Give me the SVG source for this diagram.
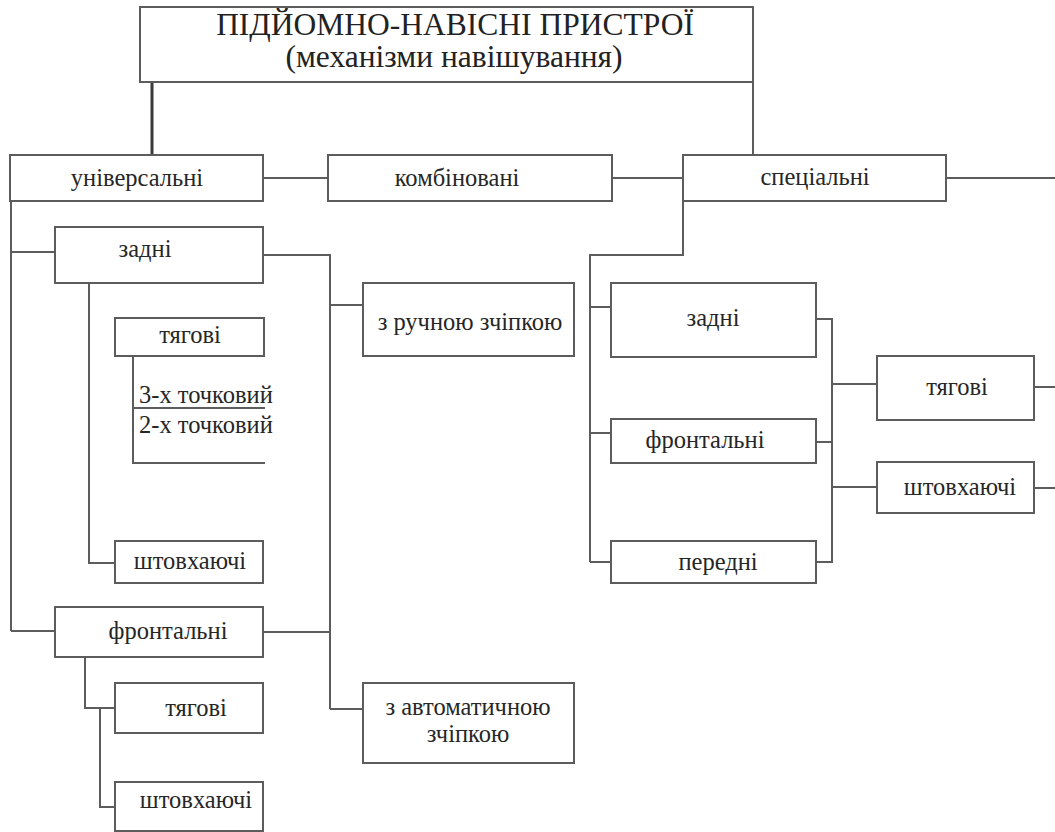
<svg xmlns="http://www.w3.org/2000/svg" width="1055" height="832" viewBox="0 0 1055 832">
<style>
.box{fill:#fff;stroke:#5c5c5c;stroke-width:2}
.ln{fill:none;stroke:#5c5c5c;stroke-width:2}
.thick{fill:none;stroke:#3a3a3a;stroke-width:3}
text{font-family:'Liberation Serif','Times New Roman',serif;fill:#262626;font-size:24.5px}
.c{text-anchor:middle}
.t{font-size:31.5px;fill:#222}
</style>
<rect width="1055" height="832" fill="#fff"/>
<g id="connectors">
<path class="thick" d="M152 82V155"/>
<path class="ln" d="M753 82V155"/>
<path class="ln" d="M263 178H328M612 178H683M946 178H1055"/>
<path class="ln" d="M11 201V631M11 252H55M11 631H55"/>
<path class="ln" d="M263 255H330V709M330 305H363M263 632H330M330 709H363"/>
<path class="ln" d="M89 283V563H115"/>
<path class="ln" d="M133 356V463H265M133 408H265"/>
<path class="ln" d="M85 657V708H115M100 708V807H115"/>
<path class="ln" d="M683 202V255H590V562M590 307H611M590 433H611M590 562H611"/>
<path class="ln" d="M816 319H832V562H816M816 442H832M832 384H877M832 487H877"/>
<path class="ln" d="M1034 387H1055M1034 488H1055"/>
</g>
<g id="title">
<rect class="box" x="140" y="7" width="613" height="75"/>
<text class="c t" x="455" y="35">ПІДЙОМНО-НАВІСНІ ПРИСТРОЇ</text>
<text class="c t" x="454" y="67">(механізми навішування)</text>
</g>
<g id="universal">
<rect class="box" x="10" y="155" width="253" height="46"/>
<text class="c" x="137" y="186">універсальні</text>
</g>
<g id="combined">
<rect class="box" x="328" y="155" width="284" height="46"/>
<text class="c" x="457" y="186">комбіновані</text>
</g>
<g id="special">
<rect class="box" x="683" y="155" width="263" height="46"/>
<text class="c" x="815" y="185">спеціальні</text>
</g>
<g id="u-rear">
<rect class="box" x="55" y="227" width="208" height="56"/>
<text class="c" x="145" y="257">задні</text>
</g>
<g id="u-rear-traction">
<rect class="box" x="115" y="318" width="149" height="38"/>
<text class="c" x="190" y="343">тягові</text>
</g>
<g id="u-3point">
<text x="139" y="403">3-х точковий</text>
</g>
<g id="u-2point">
<text x="139" y="433">2-х точковий</text>
</g>
<g id="u-rear-push">
<rect class="box" x="115" y="541" width="148" height="42"/>
<text class="c" x="190" y="569">штовхаючі</text>
</g>
<g id="u-front">
<rect class="box" x="55" y="607" width="208" height="50"/>
<text class="c" x="168" y="639">фронтальні</text>
</g>
<g id="u-front-traction">
<rect class="box" x="115" y="683" width="148" height="50"/>
<text class="c" x="196" y="716">тягові</text>
</g>
<g id="u-front-push">
<rect class="box" x="115" y="782" width="148" height="49"/>
<text class="c" x="196" y="808">штовхаючі</text>
</g>
<g id="manual">
<rect class="box" x="363" y="283" width="211" height="73"/>
<text class="c" x="470" y="330">з ручною зчіпкою</text>
</g>
<g id="auto">
<rect class="box" x="363" y="683" width="211" height="80"/>
<text class="c" x="468" y="715">з автоматичною</text>
<text class="c" x="468" y="742">зчіпкою</text>
</g>
<g id="s-rear">
<rect class="box" x="611" y="283" width="205" height="74"/>
<text class="c" x="713" y="326">задні</text>
</g>
<g id="s-front">
<rect class="box" x="611" y="419" width="205" height="44"/>
<text class="c" x="705" y="448">фронтальні</text>
</g>
<g id="s-fore">
<rect class="box" x="611" y="541" width="205" height="42"/>
<text class="c" x="718" y="570">передні</text>
</g>
<g id="s-traction">
<rect class="box" x="877" y="356" width="157" height="64"/>
<text class="c" x="957" y="395">тягові</text>
</g>
<g id="s-push">
<rect class="box" x="877" y="462" width="157" height="51"/>
<text class="c" x="960" y="495">штовхаючі</text>
</g>
</svg>
